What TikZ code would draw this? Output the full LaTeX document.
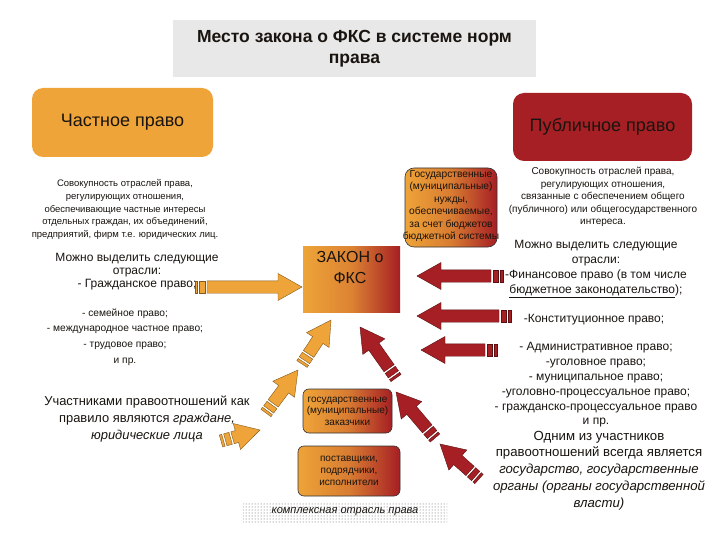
\documentclass[tikz,border=0pt]{standalone}
\usepackage{fontspec}
\setmainfont{Liberation Sans}
\usetikzlibrary{calc,patterns}
\definecolor{orC}{RGB}{238,164,56}
\definecolor{rdC}{RGB}{166,31,36}
\definecolor{grC}{RGB}{232,232,232}
\definecolor{txC}{RGB}{25,20,15}
\newcommand\fsz[2]{\fontsize{#1}{#2}\selectfont}
\newcommand\barpart[5]{%
  \filldraw[fill=#1, draw=#1!55!black, line width=.4pt]
   ($(#2)!#4!(#3)!6.2pt!90:(#3)$) -- ($(#2)!#5!(#3)!6.2pt!90:(#3)$) --
   ($(#2)!#5!(#3)!-6.2pt!90:(#3)$) -- ($(#2)!#4!(#3)!-6.2pt!90:(#3)$) -- cycle;}
\newcommand\blockarrow[3]{%
  \barpart{#1}{#2}{#3}{0pt}{2.5pt}
  \barpart{#1}{#2}{#3}{4.5pt}{10pt}
  \filldraw[fill=#1, draw=#1!55!black, line width=.4pt]
   ($(#2)!12pt!(#3)!6.2pt!90:(#3)$) --
   ($(#3)!24pt!(#2)!6.2pt!-90:(#2)$) --
   ($(#3)!24pt!(#2)!13.5pt!-90:(#2)$) -- (#3) --
   ($(#3)!24pt!(#2)!-13.5pt!-90:(#2)$) --
   ($(#3)!24pt!(#2)!-6.2pt!-90:(#2)$) --
   ($(#2)!12pt!(#3)!-6.2pt!90:(#3)$) -- cycle;}
\tikzset{
  box/.style={inner sep=0pt, align=center, text=txC},
  grad/.style={box, left color=orC, right color=rdC, middle color=orC!70!rdC, draw=black!80, line width=.6pt},
  txt/.style={inner sep=0pt, align=center, text=txC},
}
\begin{document}
\begin{tikzpicture}[x=1pt,y=-1pt]
\useasboundingbox (0,0) rectangle (720,540);
\fill[white] (0,0) rectangle (720,540);

% title
\node[box, fill=grC, minimum width=363pt, minimum height=57pt, font=\bfseries\fsz{17.5}{21}] (title) at (354.5,48.5) {Место закона о ФКС в системе норм\\права};

% main boxes
\node[box, fill=orC, rounded corners=11pt, minimum width=181pt, minimum height=69pt, font=\fsz{18}{20}] (chast) at (122.5,122.5) {Частное право};
\node[box, fill=rdC, rounded corners=11pt, minimum width=179pt, minimum height=68pt, font=\fsz{18}{20}] (publ) at (602.5,127) {Публичное право};

% descriptions
\node[txt, font=\fsz{9.5}{12.7}] (ldesc) at (125,209.5) {Совокупность отраслей права,\\регулирующих отношения,\\обеспечивающие частные интересы\\отдельных граждан, их объединений,\\предприятий, фирм т.е. юридических лиц.};
\node[txt, font=\fsz{10}{12.5}] (rdesc) at (603,197) {Совокупность отраслей права,\\регулирующих отношения,\\связанные с обеспечением общего\\(публичного) или общегосударственного\\интереса.};

% gos box
\node[grad, rounded corners=9pt, minimum width=92pt, minimum height=79pt] (gos) at (451,207.5) {};
\node[txt, font=\fsz{10.2}{12.4}] (gost) at (451,206) {Государственные\\(муниципальные)\\нужды,\\обеспечиваемые,\\за счет бюджетов\\бюджетной системы};

% zakon box
\node[box, left color=orC, right color=rdC, middle color=orC!75!rdC, minimum width=97pt, minimum height=66pt] (zakon) at (351.5,279) {};
\node[txt, font=\fsz{16}{21}] (zakont) at (350,267) {ЗАКОН о\\ФКС};

% left texts
\node[txt, font=\fsz{12}{13}] (lmoz) at (137,272) {Можно выделить следующие\\отрасли:\\- Гражданское право;};
\node[txt, font=\fsz{10.2}{15.7}] (llist) at (125,337) {- семейное право;\\- международное частное право;\\- трудовое право;\\и пр.};
\node[txt, font=\fsz{12.9}{17}] (luch) at (147,419) {Участниками правоотношений как\\правило являются \textit{граждане,}\\\textit{юридические лица}};

% right texts
\node[txt, font=\fsz{12}{14.8}] (rmoz) at (596,269) {Можно выделить следующие\\отрасли:\\-Финансовое право (в том числе\\\underline{бюджетное законодательство});};
\node[txt, font=\fsz{12}{14.8}] (rkon) at (594,320) {-Конституционное право;};
\node[txt, font=\fsz{12}{14.8}] (rlist) at (596,385) {- Административное право;\\-уголовное право;\\- муниципальное право;\\-уголовно-процессуальное право;\\- гражданско-процессуальное право\\и пр.};
\node[txt, font=\fsz{13.2}{16.8}] (rodn) at (599,470.5) {Одним из участников\\правоотношений всегда является\\\textit{государство, государственные}\\\textit{органы (органы государственной}\\\textit{власти)}};

% lower boxes
\node[grad, rounded corners=6pt, minimum width=89pt, minimum height=44pt, font=\fsz{10}{11.5}] (zakaz) at (347.5,411) {государственные\\(муниципальные)\\заказчики};
\node[grad, rounded corners=6pt, minimum width=102pt, minimum height=50pt, font=\fsz{10}{12}] (postav) at (349,471) {поставщики,\\подрядчики,\\исполнители};
\node[box, pattern=dots, pattern color=black!65, minimum width=204pt, minimum height=20pt, font=\itshape\fsz{11}{12}] (kompl) at (345,512) {комплексная отрасль права};

% arrows
\coordinate (o1a) at (195,287); \coordinate (o1b) at (302,287);
\coordinate (o2a) at (302,364); \coordinate (o2b) at (331,320);
\coordinate (o3a) at (266,413); \coordinate (o3b) at (298,370);
\coordinate (o4a) at (221,441); \coordinate (o4b) at (260,430);
\coordinate (r1a) at (503,276); \coordinate (r1b) at (417,276);
\coordinate (r2a) at (511,316); \coordinate (r2b) at (417,316);
\coordinate (r3a) at (497,350); \coordinate (r3b) at (421,350);
\coordinate (r4a) at (396,378); \coordinate (r4b) at (360,327);
\coordinate (r5a) at (435,438); \coordinate (r5b) at (396,392);
\coordinate (r6a) at (479,479); \coordinate (r6b) at (440,444);

\blockarrow{orC}{o1a}{o1b}
\blockarrow{orC}{o2a}{o2b}
\blockarrow{orC}{o3a}{o3b}
\blockarrow{orC}{o4a}{o4b}
\blockarrow{rdC}{r1a}{r1b}
\blockarrow{rdC}{r2a}{r2b}
\blockarrow{rdC}{r3a}{r3b}
\blockarrow{rdC}{r4a}{r4b}
\blockarrow{rdC}{r5a}{r5b}
\blockarrow{rdC}{r6a}{r6b}
\end{tikzpicture}
\end{document}
